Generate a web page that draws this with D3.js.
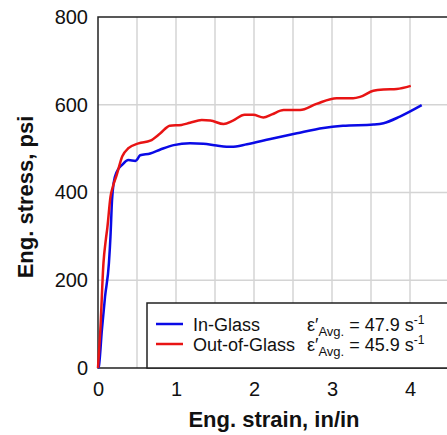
<!DOCTYPE html>
<html>
<head>
<meta charset="utf-8">
<style>
	body{ margin:0; background:#fff; }
	.grid line{ stroke:#d4d4d4; stroke-width:1.5px; }
	.tick text{ font-family:"Liberation Sans", Arial, sans-serif; font-size:20px; fill:#111; }
	.title{ font-family:"Liberation Sans", Arial, sans-serif; font-size:22px; font-weight:bold; fill:#111; }
	.leg{ font-family:"Liberation Sans", Arial, sans-serif; font-size:18px; fill:#111; }
</style>
</head>
<body>
<script src="https://d3js.org/d3.v7.min.js"></script>
<script>

	// In-Glass
	var blueStrain = [0, 0.01, 0.05, 0.09, 0.14, 0.16, 0.18, 0.20, 0.24, 0.31, 0.39, 0.48, 0.50, 0.54, 0.67, 0.80, 0.97, 1.18, 1.35, 1.52, 1.71, 1.91, 2.21, 2.55, 2.89, 3.14, 3.53, 3.66, 3.87, 4.15];
	var blueStress = [0, 3, 87, 162, 239, 300, 383, 421, 447, 463, 474, 472, 475, 485, 489, 498, 508, 512, 511, 507, 504, 510, 522, 535, 547, 552, 555, 558, 573, 599];

	// Out-of-Glass
	var redStrain = [0, 0.03, 0.07, 0.10, 0.12, 0.16, 0.19, 0.24, 0.31, 0.39, 0.52, 0.67, 0.80, 0.92, 1.07, 1.18, 1.33, 1.44, 1.61, 1.73, 1.88, 1.99, 2.12, 2.23, 2.38, 2.59, 2.80, 3.06, 3.27, 3.36, 3.53, 3.66, 3.83, 4.01];
	var redStress = [0, 87, 239, 292, 320, 390, 413, 440, 482, 501, 512, 518, 535, 552, 554, 559, 565, 564, 556, 564, 577, 577, 571, 578, 588, 588, 602, 615, 615, 618, 632, 635, 636, 643];

	var xTicks = [0, 1, 2, 3, 4];
	var yTicks = [0, 200, 400, 600, 800];
	var xGrid = [0.5, 1, 1.5, 2, 2.5, 3, 3.5, 4];
	var yGrid = [200, 400, 600];

	var legendNames = ["In-Glass", "Out-of-Glass"];
	var legendRates = ["47.9", "45.9"];
	var colors = ["#0a0ae6", "#e81414"];

	var margin = {top: 17, left: 98},
		width = 351,
		height = 351;

	var svg = d3.select("body").append("svg")
		.attr("width", 447)
		.attr("height", 435);

	var g = svg.append("g")
		.attr("transform", "translate(" + margin.left + "," + margin.top + ")");

	var x = d3.scaleLinear().domain([0, 4.5]).range([0, width]);
	var y = d3.scaleLinear().domain([0, 800]).range([height, 0]);

	// grid
	var grid = g.append("g").attr("class", "grid");
	grid.selectAll(".vx").data(xGrid).enter().append("line")
		.attr("x1", function(d){ return x(d); })
		.attr("x2", function(d){ return x(d); })
		.attr("y1", 0).attr("y2", height);
	grid.selectAll(".hy").data(yGrid).enter().append("line")
		.attr("x1", 0).attr("x2", width)
		.attr("y1", function(d){ return y(d); })
		.attr("y2", function(d){ return y(d); });

	// axes
	var xAxis = g.append("g")
		.attr("transform", "translate(0," + height + ")")
		.call(d3.axisBottom(x).tickValues(xTicks).tickSize(0).tickPadding(14).tickFormat(d3.format("d")));
	xAxis.select(".domain").remove();

	var yAxis = g.append("g")
		.call(d3.axisLeft(y).tickValues(yTicks).tickSize(0).tickPadding(10).tickFormat(d3.format("d")));
	yAxis.select(".domain").remove();

	// frame
	g.append("path")
		.attr("d", "M" + x(4.5) + "," + y(800) + "H0V" + height + "H" + x(4.5))
		.attr("fill", "none")
		.attr("stroke", "#222")
		.attr("stroke-width", 1.5);

	// lines
	var line = d3.line()
		.x(function(d){ return x(d[0]); })
		.y(function(d){ return y(d[1]); })
		.curve(d3.curveMonotoneX);

	var series = [
		d3.zip(blueStrain, blueStress),
		d3.zip(redStrain, redStress)
	];

	g.selectAll(".series").data(series).enter().append("path")
		.attr("fill", "none")
		.attr("stroke", function(d, i){ return colors[i]; })
		.attr("stroke-width", 2.5)
		.attr("stroke-linejoin", "round")
		.attr("d", line);

	// legend
	var leg = svg.append("g").attr("transform", "translate(147,303)");
	leg.append("rect")
		.attr("width", 310).attr("height", 65)
		.attr("fill", "#fff")
		.attr("stroke", "#222")
		.attr("stroke-width", 1.5);

	var rows = leg.selectAll(".row").data(legendNames).enter().append("g")
		.attr("transform", function(d, i){ return "translate(0," + (21 + i * 20) + ")"; });

	rows.append("line")
		.attr("x1", 9).attr("x2", 36)
		.attr("stroke", function(d, i){ return colors[i]; })
		.attr("stroke-width", 2.5);

	rows.append("text")
		.attr("class", "leg")
		.attr("x", 46).attr("y", 7)
		.text(function(d){ return d; });

	var rate = rows.append("text")
		.attr("class", "leg")
		.attr("x", 160).attr("y", 7);
	rate.append("tspan").text("\u03b5\u2032");
	rate.append("tspan").attr("dy", 5).attr("font-size", "13px").text("Avg.");
	rate.append("tspan").attr("dy", -5).text(function(d, i){ return " = " + legendRates[i] + " s"; });
	rate.append("tspan").attr("dy", -7).attr("font-size", "12px").text("-1");

	// titles
	svg.append("text")
		.attr("class", "title")
		.attr("x", 274).attr("y", 427)
		.attr("text-anchor", "middle")
		.text("Eng. strain, in/in");

	svg.append("text")
		.attr("class", "title")
		.attr("transform", "translate(33,197) rotate(-90)")
		.attr("text-anchor", "middle")
		.text("Eng. stress, psi");

</script>
</body>
</html>
